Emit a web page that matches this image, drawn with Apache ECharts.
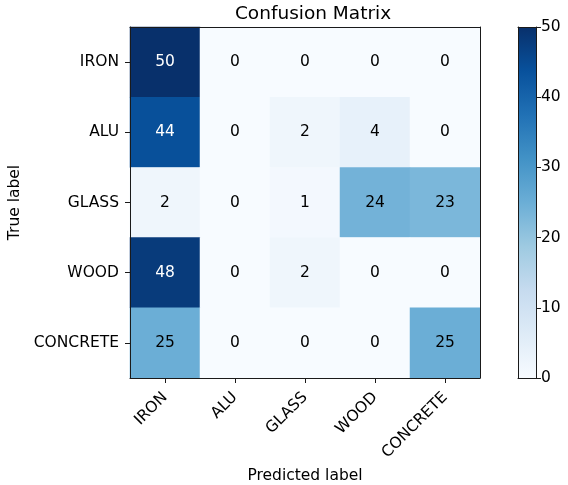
<!DOCTYPE html>
<html><head><meta charset="utf-8">
<script src="https://cdn.jsdelivr.net/npm/echarts@6/dist/echarts.min.js"></script>
<style>html,body{margin:0;padding:0;background:#fff}#c{width:568px;height:485px}</style>
</head><body><div id="c"></div>
<script>
const predLabels = ['IRON', 'ALU', 'GLASS', 'WOOD', 'CONCRETE'];
const trueLabels = ['IRON', 'ALU', 'GLASS', 'WOOD', 'CONCRETE'];
const rowIron = [50, 0, 0, 0, 0];
const rowAlu = [44, 0, 2, 4, 0];
const rowGlass = [2, 0, 1, 24, 23];
const rowWood = [48, 0, 2, 0, 0];
const rowConcrete = [25, 0, 0, 0, 25];
const colorbarMax = [50];
const blues = ['#f7fbff','#deebf7','#c6dbef','#9ecae1','#6baed6','#4292c6','#2171b5','#08519c','#08306b'];

const rows = [rowIron, rowAlu, rowGlass, rowWood, rowConcrete];
const data = [];
rows.forEach((r, i) => r.forEach((v, j) => data.push([j, i, v])));
const threshold = 25;
const font = 'DejaVu Sans';
const fs = 15.5;
const lineCol = '#1a1a1a';
const frameAxis = (extra) => Object.assign({
  z: 10, axisLine: {show: true, onZero: false, lineStyle: {color: lineCol}},
  axisTick: {show: false}, axisLabel: {show: false}, splitLine: {show: false}
}, extra);

const chart = echarts.init(document.getElementById('c'), null, {renderer: 'canvas'});
chart.setOption({
  animation: false,
  textStyle: {fontFamily: font},
  title: {text: 'Confusion Matrix', left: 308, textAlign: 'center', top: 0,
    textStyle: {fontFamily: font, fontSize: 18.5, fontWeight: 'normal', color: '#000'}},
  grid: [
    {left: 130, top: 27, width: 350, height: 351, show: false, outerBoundsMode: 'none', containLabel: false},
    {left: 518, top: 27, width: 18, height: 351, show: false, outerBoundsMode: 'none', containLabel: false}
  ],
  xAxis: [
    {type: 'category', data: predLabels, gridIndex: 0, position: 'bottom', z: 10,
      axisLine: {show: true, lineStyle: {color: lineCol}},
      axisTick: {show: true, alignWithLabel: true, length: 5, lineStyle: {color: lineCol}},
      axisLabel: {rotate: 45, fontSize: fs, color: '#000', margin: 17, fontFamily: font},
      splitLine: {show: false},
      name: 'Predicted label', nameLocation: 'middle', nameGap: 88,
      nameTextStyle: {fontSize: fs, color: '#000', fontFamily: font}},
    {type: 'category', data: ['cb'], gridIndex: 1, position: 'bottom', z: 10,
      axisLine: {show: true, lineStyle: {color: lineCol}}, axisTick: {show: false}, axisLabel: {show: false}},
    frameAxis({type: 'category', data: predLabels, gridIndex: 0, position: 'top'}),
    frameAxis({type: 'category', data: ['cb'], gridIndex: 1, position: 'top'})
  ],
  yAxis: [
    {type: 'category', data: trueLabels, gridIndex: 0, inverse: true, z: 10,
      axisLine: {show: true, lineStyle: {color: lineCol}},
      axisTick: {show: true, alignWithLabel: true, length: 5, lineStyle: {color: lineCol}},
      axisLabel: {fontSize: fs, color: '#000', margin: 11, fontFamily: font},
      splitLine: {show: false},
      name: 'True label', nameLocation: 'middle', nameGap: 100, nameRotate: 90,
      nameTextStyle: {fontSize: fs, color: '#000', fontFamily: font}},
    {type: 'value', gridIndex: 1, min: 0, max: 50, interval: 10, position: 'right', z: 10,
      axisLine: {show: true, lineStyle: {color: lineCol}},
      axisTick: {show: true, length: 5, lineStyle: {color: lineCol}},
      axisLabel: {fontSize: fs, color: '#000', margin: 5, fontFamily: font},
      splitLine: {show: false}},
    frameAxis({type: 'category', data: trueLabels, gridIndex: 0, inverse: true, position: 'right'}),
    frameAxis({type: 'value', gridIndex: 1, min: 0, max: 50, position: 'left'})
  ],
  visualMap: {show: false, min: 0, max: 50, seriesIndex: 0, inRange: {color: blues}},
  series: [
    {type: 'heatmap', xAxisIndex: 0, yAxisIndex: 0, data: data,
      label: {show: true, fontSize: fs, fontFamily: font,
        formatter: p => (p.value[2] > threshold ? '{w|' : '{b|') + p.value[2] + '}',
        rich: {w: {color: '#fff', fontSize: fs, fontFamily: font}, b: {color: '#000', fontSize: fs, fontFamily: font}}},
      itemStyle: {borderWidth: 0}},
    {type: 'bar', xAxisIndex: 1, yAxisIndex: 1, data: colorbarMax, barWidth: '100%',
      itemStyle: {color: new echarts.graphic.LinearGradient(0, 0, 0, 1,
        blues.slice().reverse().map((c, i) => ({offset: i / (blues.length - 1), color: c})))}}
  ]
});
</script></body></html>
